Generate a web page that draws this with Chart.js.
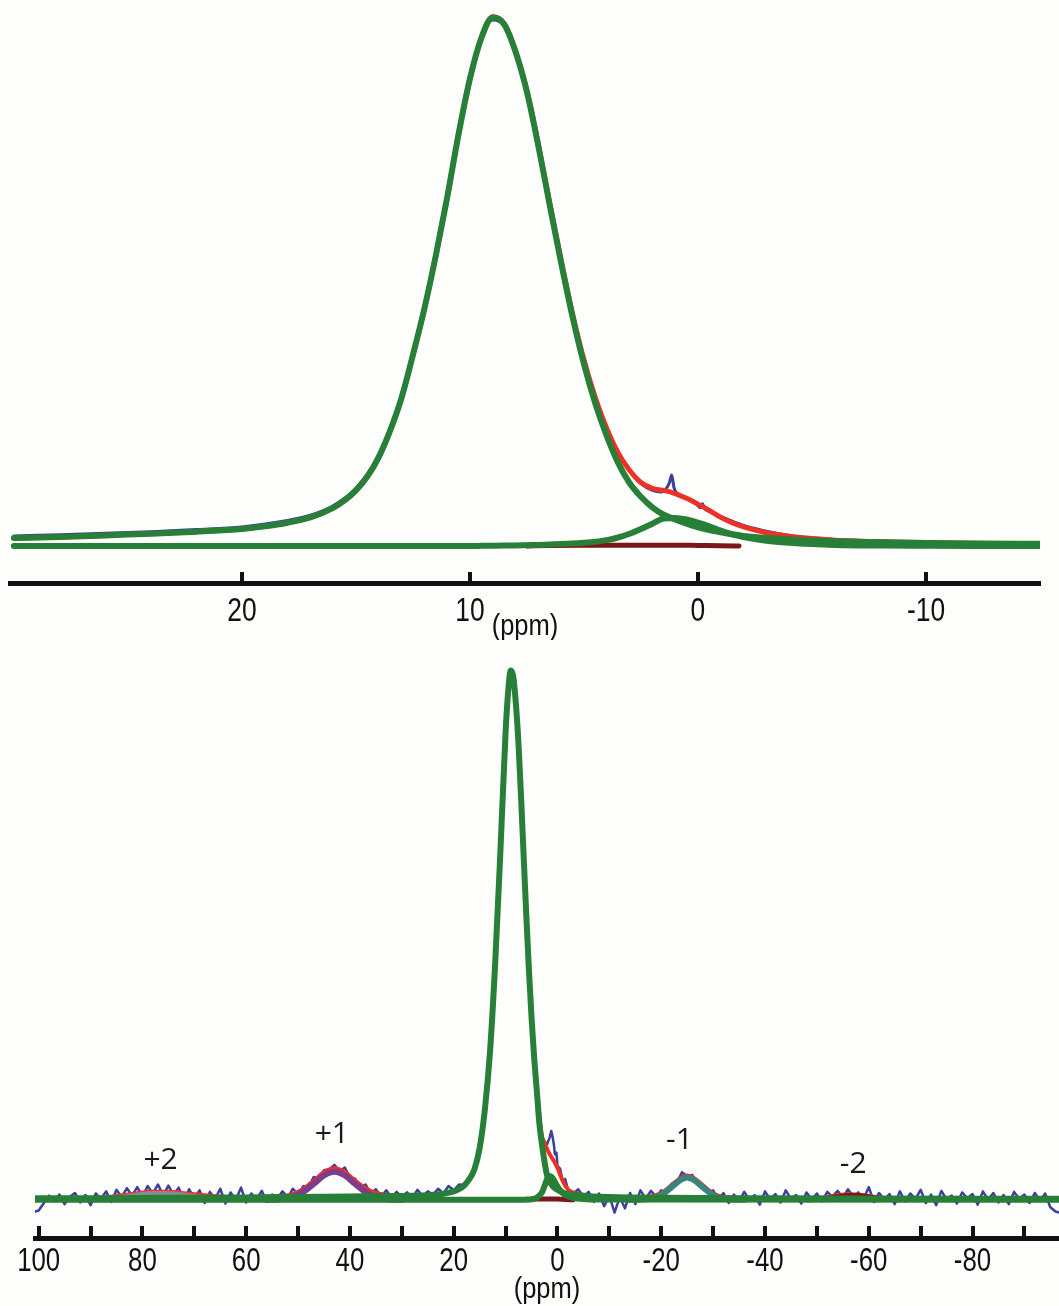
<!DOCTYPE html>
<html>
<head>
<meta charset="utf-8">
<script src="https://cdn.jsdelivr.net/npm/chart.js@4.4.0/dist/chart.umd.min.js"></script>
<style>
    html, body { margin: 0; padding: 0; background: #fdfefb; }
    canvas { display: block; }
</style>
</head>
<body>
<canvas id="top-chart" width="1059" height="640"></canvas>
<canvas id="bottom-chart" width="1059" height="666"></canvas>
<script>
// ---- top panel: expanded view of the centre band (ppm, intensity in % of max) ----
const topPpm = [30, 28, 26, 24, 22, 20, 19, 18, 17, 16, 15.5, 15, 14.5, 14, 13.5, 13, 12.5, 12, 11.5, 11,
    10.5, 10, 9.5, 9, 8.5, 8, 7.5, 7, 6.5, 6, 5.5, 5, 4.5, 4, 3.5, 3, 2.5, 2, 1.5, 1,
    0.5, 0, -0.5, -1, -1.5, -2, -3, -4, -5, -6, -8, -10, -12, -15];
const topMain = [1.5, 1.7, 2.0, 2.3, 2.7, 3.2, 3.7, 4.4, 5.4, 7.2, 8.6, 10.5, 13.1, 16.8, 21.8, 28.0, 36.1, 44.8, 54.8, 65.8,
    77.8, 88.3, 96.0, 99.9, 98.6, 93.4, 85.8, 75.6, 64.4, 53.5, 43.3, 34.4, 26.9, 20.8, 15.7, 11.9, 9.3, 7.3, 5.9, 5.0,
    4.2, 3.5, 3.0, 2.6, 2.2, 1.9, 1.5, 1.25, 1.05, 0.9, 0.7, 0.58, 0.48, 0.4];
const topSmall = [0, 0, 0, 0, 0, 0, 0, 0, 0, 0, 0, 0, 0, 0, 0, 0, 0, 0, 0, 0,
    0, 0, 0.02, 0.05, 0.08, 0.1, 0.15, 0.2, 0.28, 0.35, 0.45, 0.6, 0.8, 1.1, 1.6, 2.3, 3.2, 4.2, 5.2, 5.3,
    5.0, 4.4, 3.7, 2.9, 2.2, 1.7, 1.0, 0.6, 0.35, 0.2, 0.08, 0.03, 0, 0];
const topFit = [1.5, 1.7, 2.0, 2.3, 2.7, 3.2, 3.7, 4.4, 5.4, 7.2, 8.6, 10.5, 13.1, 16.8, 21.8, 28.0, 36.1, 44.8, 54.8, 65.8,
    77.8, 88.3, 96.0, 100, 98.7, 93.5, 86.0, 75.9, 64.8, 54.0, 43.9, 35.2, 28.0, 22.2, 17.6, 14.3, 12.0, 10.9, 10.5, 9.9,
    9.0, 7.9, 6.7, 5.4, 4.4, 3.6, 2.5, 1.85, 1.4, 1.1, 0.78, 0.62, 0.5, 0.42];
const topMinorPpm = [7.5, 6.5, 5, 4, 3, 2, 1, 0, -1, -1.8];
const topMinor = [0, 0.1, 0.15, 0.15, 0.15, 0.15, 0.15, 0.1, 0.05, 0];
const topExpPpm = [30, 28, 26, 24, 22, 20, 18, 17, 16, 15, 14, 13, 12, 11, 10, 9, 8.5, 8, 7, 6,
    5, 4, 3.5, 3, 2.5, 2, 1.6, 1.4, 1.25, 1.15, 1.05, 0.9, 0.6, 0.3, 0, -0.1, -0.2, -0.3, -0.5, -0.7,
    -1, -1.5, -2, -2.5, -3, -4, -5, -6, -8, -10, -12, -15];
const topExp = [1.9, 2.1, 2.4, 2.7, 3.1, 3.6, 4.8, 5.8, 7.6, 10.9, 17.2, 28.3, 45.1, 66.0, 88.4, 99.4, 98.3, 93.3, 75.8, 54.0,
    35.3, 22.2, 17.4, 14.2, 11.8, 10.5, 10.2, 10.8, 12.0, 13.4, 11.0, 9.9, 9.3, 8.7, 7.6, 7.2, 8.0, 7.0, 6.6, 6.2,
    5.6, 4.7, 3.9, 3.3, 2.8, 2.0, 1.5, 1.2, 0.9, 0.7, 0.55, 0.45];
const topTicks = [20, 10, 0, -10];

// ---- bottom panel: full spectrum with spinning sidebands ----
const botMainPpm = [100.7, 90, 80, 70, 60, 50, 40, 30, 26, 24, 22, 20, 19, 18, 17, 16, 15, 14, 13, 12,
    11, 10, 9.5, 9, 8.5, 8, 7.5, 7, 6.5, 6, 5.5, 5, 4.5, 4, 3.5, 3, 2.5, 2, 1.5, 1,
    0.5, 0, -1, -2, -3, -4, -6, -10, -20, -40, -60, -80, -96.7];
const botMain = [0.3, 0.32, 0.35, 0.4, 0.45, 0.55, 0.65, 0.75, 0.8, 0.95, 1.15, 1.6, 2.0, 2.7, 3.9, 5.8, 9.8, 17, 28, 44.8,
    65.8, 88.3, 96.0, 99.9, 98.6, 93.4, 85.8, 75.6, 64.4, 53.5, 43.3, 34.4, 26.9, 20.8, 14.5, 10.5, 7.2, 4.6, 3.4, 2.7,
    2.2, 1.9, 1.4, 1.1, 0.95, 0.85, 0.7, 0.55, 0.4, 0.3, 0.25, 0.22, 0.2];
const botSmallPpm = [100.7, 8, 6, 5, 4, 3, 2.5, 2, 1.5, 1, 0.5, 0, -1, -2, -3, -5, -8, -96.7];
const botSmall = [0, 0, 0.05, 0.1, 0.4, 1.4, 2.6, 3.9, 4.5, 4.2, 3.4, 2.5, 1.3, 0.7, 0.4, 0.15, 0.05, 0];
const botMinorPpm = [6, 5, 4, 3, 2, 1, 0, -1, -2, -3];
const botMinor = [0, 0.1, 0.15, 0.15, 0.15, 0.15, 0.15, 0.1, 0.05, 0];
const plus2Ppm = [92, 87, 84, 81, 78, 75, 72, 69, 66, 61];
const plus2 = [0, 0.2, 0.5, 0.9, 1.2, 1.2, 0.9, 0.5, 0.2, 0];
const plus1Ppm = [56, 53, 51, 49, 47, 45, 43, 41, 39, 37, 35, 33, 30];
const plus1 = [0, 0.15, 0.55, 1.5, 3.0, 4.6, 5.3, 4.6, 3.0, 1.5, 0.55, 0.15, 0];
const minus1Ppm = [-14, -17, -19, -20.5, -22, -23.5, -25, -26.5, -28, -29.5, -31, -33, -36];
const minus1 = [0, 0.1, 0.45, 1.2, 2.4, 3.6, 4.2, 3.6, 2.4, 1.2, 0.45, 0.1, 0];
const minus2Ppm = [-48, -51, -53, -55, -57, -59, -61, -63, -66];
const minus2 = [0, 0.15, 0.45, 0.75, 0.85, 0.7, 0.4, 0.15, 0];
const botFitPpm = [100.7, 95, 90, 87, 84, 81, 78, 75, 72, 69, 66, 63, 60, 57, 55, 53, 51, 49, 47, 45,
    43, 41, 39, 37, 35, 33, 31, 29, 27, 25, 23, 21, 20, 19, 18, 17, 16, 15, 14, 13,
    12, 11, 10, 9, 8.5, 8, 7, 6, 5, 4, 3, 2.5, 2, 1.5, 1, 0.5, 0, -1, -2, -3,
    -4, -6, -8, -10, -13, -15, -17, -19, -20.5, -22, -23.5, -25, -26.5, -28, -29.5, -31, -33, -36, -40, -45,
    -50, -52, -54, -56, -58, -60, -62, -64, -70, -80, -90, -96.7];
const botFit = [0.3, 0.3, 0.32, 0.5, 0.85, 1.25, 1.55, 1.55, 1.25, 0.95, 0.7, 0.5, 0.45, 0.5, 0.55, 0.7, 1.1, 2.05, 3.6, 5.2,
    5.95, 5.25, 3.65, 2.2, 1.3, 0.9, 0.8, 0.78, 0.8, 0.87, 1.05, 1.35, 1.6, 2.0, 2.7, 3.9, 5.8, 9.8, 17, 28,
    44.8, 65.8, 88.3, 99.9, 98.7, 93.5, 75.7, 53.6, 34.6, 21.3, 12.0, 10.8, 9.6, 8.6, 7.8, 7.0, 6.0, 3.6, 2.0, 1.4,
    1.1, 0.75, 0.65, 0.55, 0.5, 0.48, 0.55, 0.9, 1.6, 2.8, 4.0, 4.6, 4.0, 2.8, 1.55, 0.8, 0.45, 0.35, 0.3, 0.28,
    0.27, 0.55, 0.85, 1.05, 0.95, 0.75, 0.45, 0.25, 0.2, 0.2, 0.2, 0.2];
const botExpPpm = [100.7, 100, 99, 98, 97, 96, 95, 94, 93, 92, 91, 90, 89, 88, 87, 86, 85, 84, 83, 82,
    81, 80, 79, 78, 77, 76, 75, 74, 73, 72, 71, 70, 69, 68, 67, 66, 65, 64, 63, 62,
    61, 60, 59, 58, 57, 56, 55, 54, 53, 52, 51, 50, 49, 48, 47, 46, 45, 44, 43, 42,
    41, 40, 39, 38, 37, 36, 35, 34, 33, 32, 31, 30, 29, 28, 27, 26, 25, 24, 23, 22,
    21, 20, 19, 18, 17, 16, 15, 14, 13, 12, 11, 10, 9, 8.5, 8, 7, 6, 5, 4, 3,
    2.5, 2, 1.5, 1.2, 1, 0.7, 0.5, 0.2, 0, -0.5, -1, -1.5, -2, -3, -4, -5, -6, -7, -8, -9,
    -10, -11, -12, -13, -14, -15, -16, -17, -18, -19, -20, -21, -22, -23, -24, -25, -26, -27, -28, -29,
    -30, -31, -32, -33, -34, -35, -36, -37, -38, -39, -40, -41, -42, -43, -44, -45, -46, -47, -48, -49,
    -50, -51, -52, -53, -54, -55, -56, -57, -58, -59, -60, -61, -62, -63, -64, -65, -66, -67, -68, -69,
    -70, -71, -72, -73, -74, -75, -76, -77, -78, -79, -80, -81, -82, -83, -84, -85, -86, -87, -88, -89,
    -90, -91, -92, -93, -94, -95, -96, -96.7];
const botExp = [-2.2, -2.0, -0.6, 0.8, -0.3, 1.0, -0.8, 0.6, 1.3, -0.5, 0.9, -1.0, 1.2, 0.2, 1.6, -0.4, 1.9, 0.5, 2.2, 0.8,
    2.4, 0.6, 2.6, 1.2, 2.9, 0.8, 2.7, 1.0, 2.3, -0.2, 2.0, 0.3, 1.8, -0.6, 1.5, 0.2, 2.1, -0.7, 1.4, 0.0,
    2.3, -0.5, 1.2, 0.1, 1.7, -0.4, 1.0, 0.3, 1.6, 0.4, 2.1, 1.0, 2.6, 2.4, 4.3, 4.0, 5.6, 5.8, 6.6, 5.4,
    6.1, 4.2, 4.0, 2.3, 2.9, 1.2, 2.0, 0.6, 1.8, 0.4, 1.5, 0.5, 1.4, 0.3, 1.9, 0.7, 1.6, 1.0, 2.1, 1.2,
    2.6, 1.8, 2.9, 2.8, 4.3, 6.0, 10.0, 17.2, 28, 44.8, 65.8, 88.3, 99.6, 98.4, 93.4, 75.6, 53.6, 34.6, 21.3, 12.1,
    11.0, 10.5, 11.8, 13.0, 12.2, 10.5, 8.6, 8.9, 6.4, 5.9, 3.6, 3.9, 2.0, 1.1, 2.0, 0.6, 1.5, -0.4, 1.2, -1.2,
    0.8, -2.4, 0.5, -1.6, 1.3, -0.8, 1.8, 0.2, 1.7, 0.6, 1.8, 1.3, 3.0, 3.2, 5.2, 4.4, 4.7, 3.0, 2.9, 1.4,
    1.8, 0.2, 1.3, -0.6, 1.0, -0.2, 1.5, 0.0, 0.9, -0.9, 1.6, 0.1, 1.1, -0.5, 1.8, 0.2, 0.9, -0.7, 1.4, 0.1,
    1.2, -0.3, 1.5, 0.6, 1.7, 0.4, 2.0, 0.6, 1.4, 0.2, 2.4, -0.4, 1.3, 0.0, 1.1, -0.8, 1.6, -0.3, 1.2, 0.2,
    1.9, -0.6, 1.0, -1.0, 1.7, 0.1, 0.8, -0.7, 1.4, 0.3, 1.1, -0.9, 1.6, 0.0, 1.3, -0.5, 0.9, -0.8, 1.5, 0.2,
    1.0, -0.6, 1.3, -0.2, 1.2, -1.4, -2.2, -2.4];
const botTicks = [100, 90, 80, 70, 60, 50, 40, 30, 20, 10, 0, -10, -20, -30, -40, -50, -60, -70, -80, -90];
const botLabelled = [100, 80, 60, 40, 20, 0, -20, -40, -60, -80];
const sidebandText = ['+2', '+1', '-1', '-2'];
const sidebandPpm = [76.5, 43.5, -23.5, -57];
const sidebandLevel = [7.5, 12.3, 11.3, 6.6];

const GREEN = '#287f37';
const RED = '#ee3125';
const BLUE = '#3d3f9e';
const MAROON = '#7d1618';
const AXIS_FONT = "'Liberation Sans', Arial, sans-serif";

function series(xs, ys, color, width, extra) {
    return Object.assign({
        data: xs.map((x, i) => ({ x: x, y: ys[i] })),
        borderColor: color,
        borderWidth: width,
        pointRadius: 0,
        fill: false,
        cubicInterpolationMode: 'monotone',
        borderJoinStyle: 'round',
        borderCapStyle: 'round'
    }, extra || {});
}

// short tick marks standing up from the axis line, plus narrow tick labels and axis title
const ppmAxis = {
    id: 'ppmAxis',
    afterDraw(chart, args, opts) {
        const scale = chart.scales.x;
        const area = chart.chartArea;
        const ctx = chart.ctx;
        const y0 = area.bottom;
        ctx.save();
        ctx.strokeStyle = '#111';
        ctx.lineWidth = opts.tickWidth;
        scale.ticks.forEach(t => {
            const px = Math.round(scale.getPixelForValue(t.value));
            ctx.beginPath();
            ctx.moveTo(px, y0);
            ctx.lineTo(px, y0 - opts.tickLength);
            ctx.stroke();
        });
        ctx.fillStyle = '#111';
        ctx.textAlign = 'center';
        ctx.textBaseline = 'middle';
        ctx.font = opts.labelSize + 'px ' + AXIS_FONT;
        scale.ticks.forEach(t => {
            if (!opts.labelled.includes(t.value)) return;
            ctx.save();
            ctx.translate(scale.getPixelForValue(t.value), y0 + opts.labelGap);
            ctx.scale(opts.squeeze, 1);
            ctx.fillText(String(t.value), 0, 0);
            ctx.restore();
        });
        ctx.font = opts.titleSize + 'px ' + AXIS_FONT;
        ctx.translate((area.left + area.right) / 2, y0 + opts.titleGap);
        ctx.scale(opts.titleSqueeze, 1);
        ctx.fillText(scale.options.title.text, 0, 0);
        ctx.restore();
    }
};

const sidebandLabels = {
    id: 'sidebandLabels',
    afterDatasetsDraw(chart, args, opts) {
        const { ctx, scales: { x, y } } = chart;
        ctx.save();
        ctx.font = "30px 'Open Sans', 'Noto Sans', sans-serif";
        ctx.fillStyle = '#1a1a1a';
        ctx.textAlign = 'center';
        ctx.textBaseline = 'middle';
        opts.text.forEach((t, i) => {
            ctx.fillText(t, x.getPixelForValue(opts.ppm[i]), y.getPixelForValue(opts.level[i]));
        });
        ctx.restore();
    }
};

function axisOptions(min, max, ticks) {
    return {
        type: 'linear',
        reverse: true,
        min: min,
        max: max,
        afterBuildTicks: scale => { scale.ticks = ticks.map(v => ({ value: v })); },
        grid: { display: false, drawTicks: false },
        border: { display: true, color: '#111', width: 5 },
        ticks: { display: false },
        title: { display: false, text: '(ppm)' }
    };
}

const baseOptions = {
    responsive: false,
    animation: false,
    events: [],
    plugins: { legend: { display: false }, tooltip: { enabled: false } }
};

// datasets listed top-most first (Chart.js paints the first one last)
new Chart(document.getElementById('top-chart').getContext('2d'), {
    type: 'line',
    data: {
        datasets: [
            series(topPpm, topMain, GREEN, 6),
            series(topPpm, topSmall, GREEN, 6),
            series(topMinorPpm, topMinor, MAROON, 5),
            series(topPpm, topFit, RED, 5),
            series(topExpPpm, topExp, BLUE, 3)
        ]
    },
    options: Object.assign({}, baseOptions, {
        layout: { padding: { left: 10, right: 19, top: 1, bottom: 57 } },
        scales: {
            x: axisOptions(-15, 30.17, topTicks),
            y: { display: false, min: -7, max: 103 }
        },
        plugins: Object.assign({}, baseOptions.plugins, {
            ppmAxis: {
                tickLength: 11, tickWidth: 4, labelled: topTicks,
                labelSize: 33, squeeze: 0.8, labelGap: 29,
                titleSize: 29, titleSqueeze: 0.88, titleGap: 44
            }
        })
    }),
    plugins: [ppmAxis]
});

new Chart(document.getElementById('bottom-chart').getContext('2d'), {
    type: 'line',
    data: {
        datasets: [
            series(botMainPpm, botMain, GREEN, 6),
            series(botSmallPpm, botSmall, GREEN, 6),
            series(plus1Ppm, plus1, '#7b3d8c', 6),
            series(minus1Ppm, minus1, '#38857f', 6),
            series(plus2Ppm, plus2, '#8d8790', 5),
            series(minus2Ppm, minus2, MAROON, 5),
            series(botMinorPpm, botMinor, MAROON, 5),
            series(botFitPpm, botFit, RED, 4),
            series(botExpPpm, botExp, BLUE, 2.5, { cubicInterpolationMode: 'default', tension: 0 })
        ]
    },
    options: Object.assign({}, baseOptions, {
        layout: { padding: { left: 35, right: 0, top: 12, bottom: 68 } },
        scales: {
            x: axisOptions(-96.67, 100.71, botTicks),
            y: { display: false, min: -7.2, max: 103.4 }
        },
        plugins: Object.assign({}, baseOptions.plugins, {
            ppmAxis: {
                tickLength: 12, tickWidth: 4, labelled: botLabelled,
                labelSize: 34, squeeze: 0.76, labelGap: 24,
                titleSize: 29, titleSqueeze: 0.88, titleGap: 52
            },
            sidebandLabels: { text: sidebandText, ppm: sidebandPpm, level: sidebandLevel }
        })
    }),
    plugins: [ppmAxis, sidebandLabels]
});
</script>
</body>
</html>
